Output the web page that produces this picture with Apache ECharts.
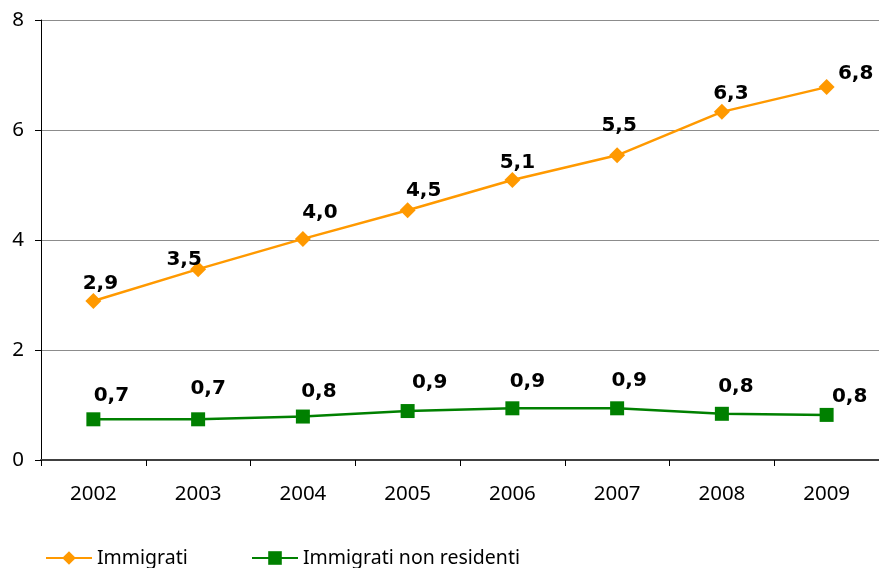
<!DOCTYPE html>
<html>
<head>
<meta charset="utf-8">
<script src="https://cdn.jsdelivr.net/npm/echarts@6/dist/echarts.min.js"></script>
<style>html,body{margin:0;padding:0;background:#fff}#c{width:879px;height:568px}</style>
</head>
<body>
<div id="c"></div>
<script>
var years = ['2002','2003','2004','2005','2006','2007','2008','2009'];
var immigrati = [2.89, 3.47, 4.02, 4.54, 5.09, 5.54, 6.33, 6.78];
var nonResidenti = [0.74, 0.74, 0.79, 0.89, 0.94, 0.94, 0.84, 0.82];
var yTicks = [0, 2, 4, 6, 8];

// label offsets (style only)
var offImm = [[7,-17],[-14,-9],[17,-26],[16,-20],[5,-17],[2,-30],[9,-18],[29,-13]];
var offNon = [[18,-24],[10,-31],[16,-25],[22,-28],[15,-27],[12,-28],[14,-27],[23,-18]];

function fmt(v){ return v.toFixed(1).replace('.', ','); }
function build(vals, offs){
  return vals.map(function(v,i){
    return {value: v, label: {offset: offs[i]}};
  });
}
var labelStyle = {show: true, position: 'inside', fontFamily: 'DejaVu Sans', fontWeight: 'bold', fontSize: 20, color: '#000',
  formatter: function(p){ return fmt(p.value); }};
var legendText = {fontFamily: 'Noto Sans', fontSize: 19.5, color: '#000'};

var chart = echarts.init(document.getElementById('c'), null, {renderer: 'canvas'});
chart.setOption({
  animation: false,
  backgroundColor: '#fff',
  grid: {left: 41, top: 20, width: 842, height: 440, containLabel: false},
  xAxis: {
    type: 'category', data: years, boundaryGap: true,
    axisLine: {lineStyle: {color: '#404040', width: 2}},
    axisTick: {show: true, length: 6, lineStyle: {color: '#000', width: 1}},
    axisLabel: {margin: 24, fontFamily: 'Noto Sans', fontSize: 20.5, color: '#000'}
  },
  yAxis: {
    type: 'value', min: yTicks[0], max: yTicks[yTicks.length-1], interval: 2,
    axisLine: {show: true, lineStyle: {color: '#000', width: 1}},
    axisTick: {show: true, length: 6, lineStyle: {color: '#000'}},
    axisLabel: {margin: 17, fontFamily: 'Noto Sans', fontSize: 20.5, color: '#000'},
    splitLine: {lineStyle: {color: '#8c8c8c', width: 1}}
  },
  legend: [
    {data: ['Immigrati'], left: 40, top: 543, itemWidth: 46, itemHeight: 17, itemGap: 5, textStyle: legendText},
    {data: ['Immigrati non residenti'], left: 246, top: 543, itemWidth: 46, itemHeight: 17, itemGap: 5, textStyle: legendText}
  ],
  series: [
    {name: 'Immigrati', type: 'line', data: build(immigrati, offImm), color: '#FF9900',
     symbol: 'diamond', symbolSize: 16, lineStyle: {width: 2.5, color: '#FF9900'}, itemStyle: {color: '#FF9900'},
     label: labelStyle},
    {name: 'Immigrati non residenti', type: 'line', data: build(nonResidenti, offNon), color: '#008000',
     symbol: 'rect', symbolSize: 14, lineStyle: {width: 2.5, color: '#008000'}, itemStyle: {color: '#008000'},
     label: labelStyle}
  ]
});
</script>
</body>
</html>
